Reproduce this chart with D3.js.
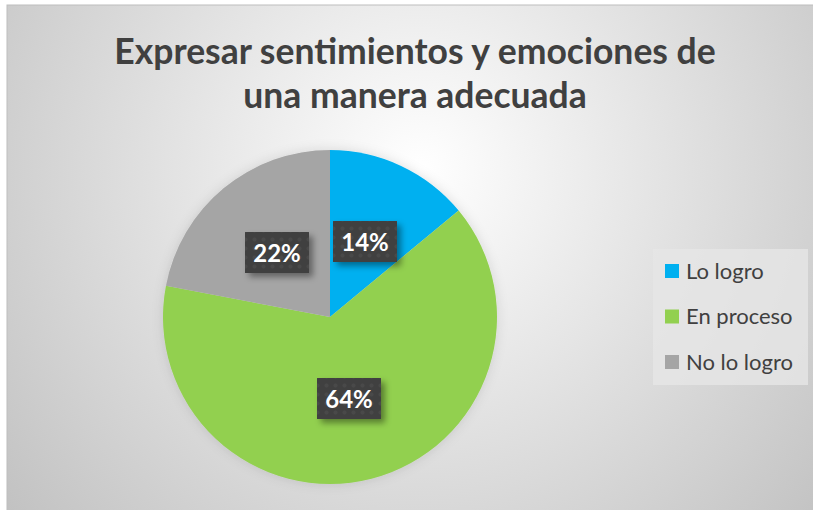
<!DOCTYPE html>
<html>
<head>
<meta charset="utf-8">
<script src="https://d3js.org/d3.v7.min.js"></script>
<style>
body { margin: 0; background: #fff; }
.title { font-family: Lato, "Open Sans", sans-serif; font-weight: bold; fill: #404040; }
.legend_text { font-family: Lato, "Open Sans", sans-serif; font-size: 22px; fill: #404040; }
.pct { font-family: Lato, "Open Sans", sans-serif; font-weight: bold; font-size: 24px; fill: #fff; }
</style>
</head>
<body>
<svg width="813" height="510"></svg>
<script>

var categories = ["Lo logro", "En proceso", "No lo logro"],
    values = [14, 64, 22],
    colors = ["#00B0F0", "#92D050", "#A5A5A5"],
    titleLines = ["Expresar sentimientos y emociones de", "una manera adecuada"];

var svg = d3.select("svg");
var defs = svg.append("defs");

var bg = defs.append("radialGradient")
    .attr("id", "bg")
    .attr("gradientUnits", "userSpaceOnUse")
    .attr("cx", 420).attr("cy", 170).attr("r", 560);
bg.append("stop").attr("offset", "0%").attr("stop-color", "#ffffff");
bg.append("stop").attr("offset", "100%").attr("stop-color", "#bfbfbf");

var pat = defs.append("pattern")
    .attr("id", "dots")
    .attr("patternUnits", "userSpaceOnUse")
    .attr("width", 9).attr("height", 9);
pat.append("rect").attr("width", 9).attr("height", 9).attr("fill", "#404040");
pat.append("circle").attr("cx", 4.5).attr("cy", 4.5).attr("r", 2).attr("fill", "#4a4a4a");

var shadow = defs.append("filter").attr("id", "shadow")
    .attr("x", "-30%").attr("y", "-30%").attr("width", "160%").attr("height", "160%");
shadow.append("feDropShadow")
    .attr("dx", 4).attr("dy", 4).attr("stdDeviation", 3)
    .attr("flood-color", "#000").attr("flood-opacity", 0.4);

var pieShadow = defs.append("filter").attr("id", "pieShadow")
    .attr("x", "-20%").attr("y", "-20%").attr("width", "140%").attr("height", "140%");
pieShadow.append("feDropShadow")
    .attr("dx", 0).attr("dy", 0).attr("stdDeviation", 6)
    .attr("flood-color", "#000").attr("flood-opacity", 0.12);

svg.append("rect")
    .attr("x", 7).attr("y", 5)
    .attr("width", 813).attr("height", 510)
    .attr("fill", "url(#bg)")
    .attr("stroke", "#bdbdbd");

svg.selectAll(".title")
  .data(titleLines)
  .enter().append("text")
    .attr("class", "title")
    .attr("x", 415)
    .attr("y", function(d, i) { return 64 + i * 44; })
    .attr("text-anchor", "middle")
    .style("font-size", "35.5px")
    .text(function(d) { return d; });

var cx = 330, cy = 317, radius = 167;

var pie = d3.pie().sort(null).value(function(d) { return d; });
var arcs = pie(values);
var arc = d3.arc().innerRadius(0).outerRadius(radius);

var g = svg.append("g").attr("transform", "translate(" + cx + "," + cy + ")");

g.append("g")
    .attr("filter", "url(#pieShadow)")
  .selectAll("path")
  .data(arcs)
  .enter().append("path")
    .attr("d", arc)
    .attr("fill", function(d, i) { return colors[i]; });

var labelPos = [[35, -75], [19, 82], [-53, -64]];

var lab = g.selectAll(".lab")
  .data(arcs)
  .enter().append("g")
    .attr("transform", function(d, i) { return "translate(" + labelPos[i][0] + "," + labelPos[i][1] + ")"; });

lab.append("rect")
    .attr("x", -32).attr("y", -21)
    .attr("width", 64).attr("height", 41)
    .attr("fill", "url(#dots)")
    .attr("filter", "url(#shadow)");

lab.append("text")
    .attr("class", "pct")
    .attr("text-anchor", "middle")
    .attr("dy", "0.36em")
    .text(function(d) { return d.data + "%"; });

var legend = svg.append("g");
legend.append("rect")
    .attr("x", 653).attr("y", 249)
    .attr("width", 155).attr("height", 136)
    .attr("fill", "#e6e6e6").attr("fill-opacity", 0.8);

var item = legend.selectAll(".item")
  .data(categories)
  .enter().append("g")
    .attr("transform", function(d, i) { return "translate(665," + (271 + i * 45.5) + ")"; });

item.append("rect")
    .attr("x", 0).attr("y", -7)
    .attr("width", 14).attr("height", 14)
    .attr("fill", function(d, i) { return colors[i]; });

item.append("text")
    .attr("class", "legend_text")
    .attr("x", 21)
    .attr("dy", "0.35em")
    .text(function(d) { return d; });

</script>
</body>
</html>
